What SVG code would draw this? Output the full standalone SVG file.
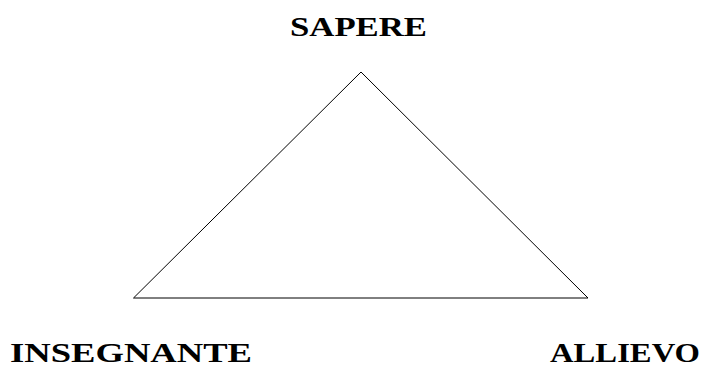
<svg xmlns="http://www.w3.org/2000/svg" width="704" height="365" viewBox="0 0 704 365">
<style>
.lbl{font-family:"Liberation Serif","DejaVu Serif",serif;font-weight:bold;font-size:28px;fill:#000}
.edge{fill:none;stroke:#000;stroke-width:1}
</style>
<rect width="704" height="365" fill="#fff"/>
<g id="connectors">
<path class="edge" d="M133.5,298 L361,72 L588,298 Z"/>
</g>
<g id="sapere"><text class="lbl" x="290" y="36" textLength="137" lengthAdjust="spacingAndGlyphs">SAPERE</text></g>
<g id="insegnante"><text class="lbl" x="10" y="362" textLength="242" lengthAdjust="spacingAndGlyphs">INSEGNANTE</text></g>
<g id="allievo"><text class="lbl" x="550" y="362" textLength="150" lengthAdjust="spacingAndGlyphs">ALLIEVO</text></g>
</svg>
